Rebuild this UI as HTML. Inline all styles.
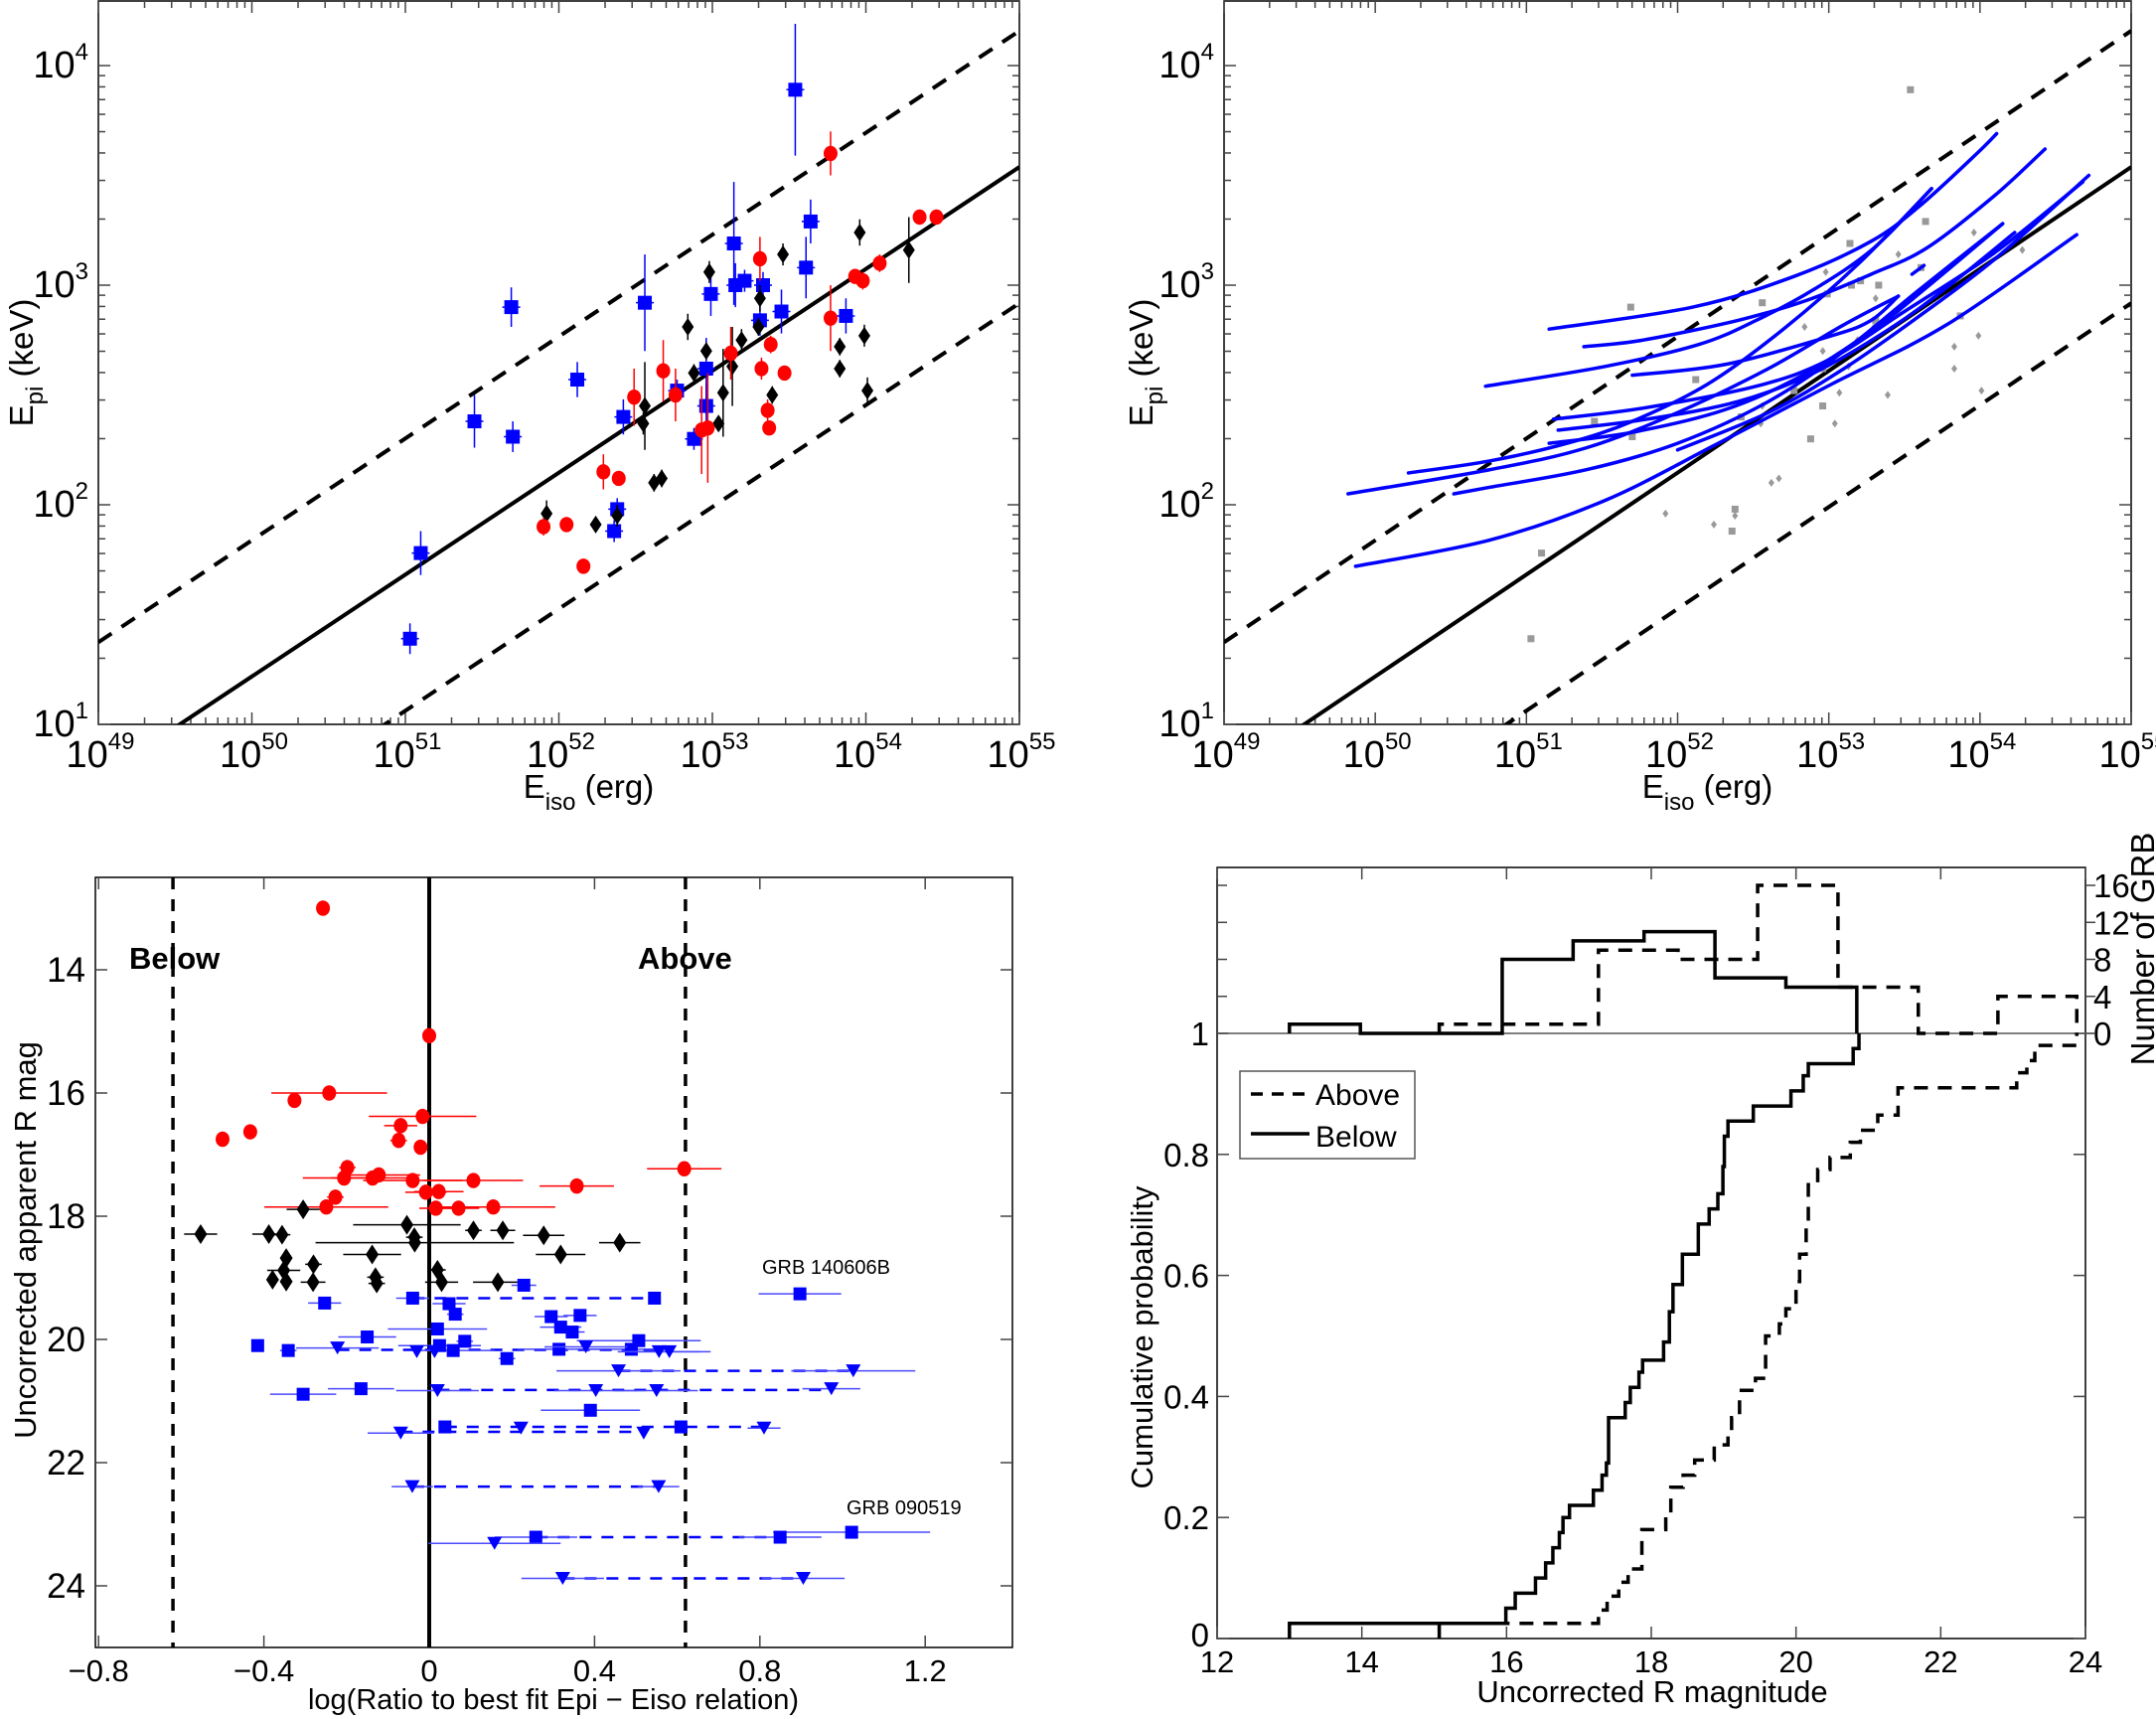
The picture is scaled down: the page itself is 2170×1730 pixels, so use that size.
<!DOCTYPE html>
<html><head><meta charset="utf-8"><title>GRB Epi-Eiso figure</title>
<style>
html,body{margin:0;padding:0;background:#fff;}
svg{display:block;font-family:"Liberation Sans Narrow","Liberation Sans",sans-serif;}
</style></head>
<body>
<svg id="fig" xmlns="http://www.w3.org/2000/svg" width="2170" height="1730" viewBox="0 0 2170 1730">
<defs>
<clipPath id="clip1"><rect x="99" y="1" width="927" height="728"/></clipPath>
<clipPath id="clip2"><rect x="1232" y="1" width="913" height="728"/></clipPath>
<clipPath id="clip3"><rect x="96" y="883" width="923" height="775"/></clipPath>
</defs>
</svg>
<script>
// ---------- Panel 1 data (log10 Eiso, log10 Epi) ----------
const p1SqE=[51.03,51.1,51.45,51.7,51.69,52.12,52.36,52.38,52.42,52.56,52.77,52.88,52.96,52.96,52.99,53.14,53.15,53.21,53.31,53.33,53.45,53.54,53.61,53.64,53.87];
const p1SqP=[1.39,1.78,2.38,2.31,2.9,2.57,1.88,1.98,2.40,2.92,2.52,2.30,2.45,2.62,2.96,3.19,3.0,3.02,2.84,3.0,2.88,3.89,3.08,3.29,2.86];
const p1SqErr=[0.07,0.1,0.12,0.07,0.09,0.08,0.05,0.05,0.08,0.22,0.05,0.05,0.1,0.14,0.1,0.28,0.1,0.05,0.07,0.06,0.1,0.3,0.14,0.1,0.08];
const p1CiE=[51.9,52.05,52.16,52.29,52.39,52.49,52.68,52.76,52.93,52.97,53.12,53.31,53.32,53.36,53.37,53.38,53.47,53.77,53.77,53.93,53.98,54.09,54.35,54.46];
const p1CiP=[1.9,1.91,1.72,2.15,2.12,2.49,2.61,2.50,2.34,2.35,2.69,3.12,2.62,2.43,2.35,2.73,2.60,3.60,2.85,3.04,3.02,3.10,3.31,3.31];
const p1CiErr=[0.04,0.03,0.03,0.08,0.03,0.13,0.14,0.12,0.2,0.25,0.12,0.1,0.05,0.05,0.03,0.04,0.03,0.1,0.15,0.03,0.04,0.04,0.03,0.03];
const p1DiE=[51.92,52.24,52.38,52.55,52.56,52.62,52.67,52.84,52.88,52.96,52.98,53.04,53.07,53.13,53.19,53.30,53.31,53.39,53.46,53.83,53.83,53.96,53.99,54.01,54.28];
const p1DiP=[1.96,1.91,1.95,2.37,2.45,2.10,2.12,2.81,2.60,2.70,3.06,2.37,2.51,2.63,2.75,2.81,2.94,2.50,3.14,2.62,2.72,3.24,2.77,2.52,3.16];
const p1DiErr=[0.06,0.03,0.05,0.05,0.2,0.04,0.04,0.06,0.04,0.04,0.05,0.03,0.2,0.18,0.05,0.04,0.06,0.04,0.05,0.04,0.04,0.06,0.05,0.06,0.15];
const p1XTicks=[49,50,51,52,53,54,55];
const p1YTicks=[1,2,3,4];
const fitIntercept=0.754, fitSlope=0.464, fitBand=0.62;

// ---------- Panel 2 tracks ----------
const p2Tracks=[
 [[51.15,2.80],[52.1,2.9],[52.77,3.04],[53.28,3.2],[53.6,3.36],[53.98,3.6],[54.11,3.69]],
 [[51.38,2.72],[51.77,2.75],[52.4,2.84],[52.85,2.93],[53.28,3.05],[53.65,3.17],[54.1,3.41],[54.43,3.62]],
 [[50.73,2.54],[51.52,2.63],[52.14,2.73],[52.52,2.84],[52.9,2.98],[53.3,3.17],[53.68,3.44]],
 [[51.7,2.59],[52.32,2.64],[53.02,2.77],[53.28,2.84],[53.46,2.95]],
 [[51.18,2.39],[51.77,2.44],[52.52,2.54],[53.0,2.66],[53.5,2.88],[54.1,3.15],[54.68,3.47]],
 [[51.21,2.34],[51.8,2.39],[52.4,2.47],[52.9,2.6],[53.4,2.8],[53.8,3.0],[54.23,3.24]],
 [[51.15,2.28],[51.7,2.33],[52.3,2.43],[52.8,2.58],[53.3,2.8],[53.7,3.02],[54.15,3.28]],
 [[50.22,2.145],[50.76,2.2],[51.27,2.28],[51.7,2.38],[52.2,2.55],[52.7,2.8],[53.2,3.1],[53.68,3.44]],
 [[49.82,2.05],[50.76,2.16],[51.4,2.26],[52.0,2.42],[52.6,2.62],[53.1,2.82],[53.46,2.95]],
 [[50.52,2.05],[50.76,2.08],[51.4,2.16],[52.0,2.28],[52.6,2.47],[53.1,2.7],[53.6,2.98],[54.15,3.28]],
 [[49.87,1.72],[50.76,1.84],[51.52,2.02],[52.27,2.28],[53.02,2.55],[53.78,2.82],[54.64,3.23]],
 [[52.0,2.25],[52.6,2.42],[53.1,2.62],[53.6,2.86],[54.1,3.12],[54.72,3.5]],
 [[53.55,3.05],[53.63,3.09]]
];

// ---------- Panel 3 data ----------
const p3RedX=[-0.257,0,-0.242,-0.326,-0.016,-0.433,-0.069,-0.50,-0.074,-0.021,-0.198,0.617,-0.122,-0.206,-0.137,-0.04,0.107,0.357,-0.008,0.023,-0.227,-0.249,0.016,0.071,0.155];
const p3RedY=[13.0,15.07,16.0,16.12,16.38,16.63,16.53,16.75,16.77,16.88,17.21,17.23,17.33,17.38,17.38,17.42,17.42,17.51,17.61,17.60,17.69,17.85,17.87,17.87,17.85];
const p3RedErr=[0,0,0.14,0,0.13,0,0.04,0,0.02,0,0.02,0.09,0.1,0.1,0.1,0.12,0.12,0.09,0.05,0.06,0.02,0.15,0.04,0.05,0.15];
const p3BlkX=[-0.305,-0.553,-0.388,-0.356,-0.054,-0.036,-0.035,0.107,0.178,0.277,0.461,-0.346,-0.138,0.318,-0.28,-0.352,0.02,-0.379,-0.346,-0.281,-0.13,-0.127,0.03,0.166];
const p3BlkY=[17.89,18.29,18.29,18.30,18.14,18.34,18.43,18.23,18.23,18.31,18.43,18.68,18.62,18.62,18.78,18.88,18.87,19.03,19.06,19.07,18.99,19.09,19.07,19.07];
const p3BlkErr=[0.04,0.04,0.04,0.02,0.13,0.02,0.24,0.02,0.03,0.05,0.05,0.0,0.07,0.06,0.02,0.04,0.02,0.0,0.0,0.03,0.02,0.02,0.04,0.06];
const p3SqX=[0.229,-0.04,0.545,0.897,-0.253,0.048,0.063,0.295,0.365,0.02,0.318,0.346,-0.15,0.086,0.507,-0.415,0.025,-0.341,0.058,0.314,0.489,0.188,-0.165,-0.305,0.39,0.038,0.609,0.258,0.849,1.022];
const p3SqY=[19.12,19.33,19.33,19.26,19.41,19.42,19.59,19.63,19.61,19.83,19.80,19.88,19.96,20.03,20.02,20.10,20.10,20.18,20.18,20.16,20.16,20.31,20.80,20.89,21.15,21.42,21.42,23.21,23.21,23.13];
const p3SqErr=[0.03,0.04,0.0,0.1,0.04,0.04,0.02,0.04,0.04,0.12,0.05,0.03,0.07,0.02,0.15,0,0.1,0.02,0.1,0.1,0.1,0.02,0.08,0.08,0.12,0.0,0.0,0.1,0.1,0.19];
const p3TriX=[-0.222,-0.03,0.013,0.379,0.556,0.581,0.458,1.026,0.02,0.403,0.55,0.973,-0.069,0.222,0.519,0.81,-0.041,0.555,0.158,0.323,0.905];
const p3TriY=[20.14,20.2,20.2,20.12,20.2,20.2,20.51,20.51,20.83,20.83,20.83,20.8,21.52,21.44,21.52,21.44,22.39,22.39,23.31,23.88,23.88];
const p3TriErr=[0.1,0,0,0.1,0.1,0.1,0.15,0.15,0.1,0.1,0.1,0.07,0.08,0,0,0.04,0.05,0.05,0.16,0.1,0.1];
const p3DashX1=[-0.04,-0.222,0.458,0.02,0.038,-0.069,-0.041,0.258,0.323];
const p3DashX2=[0.545,0.581,1.026,0.973,0.81,0.519,0.555,0.849,0.905];
const p3DashY=[19.33,20.17,20.51,20.82,21.42,21.5,22.39,23.21,23.88];
const p3XTicks=[-0.8,-0.4,0,0.4,0.8,1.2];
const p3XLabels=["\u22120.8","\u22120.4","0","0.4","0.8","1.2"];
const p3YTicks=[14,16,18,20,22,24];

// ---------- Panel 4 data ----------
const belowEdges=[13.0,13.98,14.96,15.94,16.92,17.9,18.88,19.86,20.84];
const belowCounts=[1,0,0,8,10,11,6,5];
const aboveEdges=[15.07,16.17,17.27,18.37,19.47,20.58,21.69,22.79,23.88];
const aboveCounts=[1,1,9,8,16,5,0,4];
const belowMag=[13.0,15.99,16.12,16.4,16.54,16.64,16.73,16.78,16.87,17.2,17.32,17.38,17.41,17.64,17.71,17.83,17.88,18.17,18.25,18.3,18.43,18.65,18.8,18.92,18.99,19.01,19.06,19.41,19.93,20.1,20.17,20.79,20.87];
const belowCum=[0.025,0.05,0.075,0.10,0.125,0.15,0.175,0.2,0.22,0.245,0.27,0.29,0.365,0.39,0.415,0.44,0.46,0.49,0.54,0.585,0.635,0.685,0.71,0.735,0.78,0.83,0.855,0.88,0.905,0.93,0.95,0.975,1.0];
const aboveMag=[15.07,17.27,17.39,17.55,17.68,17.87,18.2,18.27,18.44,18.6,18.87,19.06,19.11,19.22,19.44,19.58,19.77,19.86,20.0,20.05,20.14,20.17,20.3,20.47,20.75,20.89,21.13,21.41,23.05,23.19,23.3,23.88];
const aboveCum=[0.025,0.047,0.07,0.093,0.115,0.18,0.205,0.25,0.27,0.295,0.32,0.34,0.365,0.41,0.43,0.5,0.52,0.545,0.59,0.635,0.68,0.75,0.775,0.795,0.82,0.84,0.865,0.91,0.935,0.955,0.98,1.0];
const p4XTicks=[12,14,16,18,20,22,24];
const p4YTicks=[0,0.2,0.4,0.6,0.8,1];
const p4YLabels=["0","0.2","0.4","0.6","0.8","1"];
const p4CountTicks=[0,4,8,12,16];

// ---------- helpers ----------
const NS="http://www.w3.org/2000/svg";
const svg=document.getElementById('fig');
function mk(tag,parent,attrs){const e=document.createElementNS(NS,tag);for(const k in attrs)e.setAttribute(k,attrs[k]);(parent||svg).appendChild(e);return e;}
function grp(parent){return mk('g',parent,{});}

const P1={L:99,R:1026,T:1,B:729};
const P2={L:1232,R:2145,T:1,B:729};
const P3={L:96,R:1019,T:883,B:1658};
const P4={L:1225,R:2099,T:873,B:1649};
const x1=v=>P1.L+(v-49)/6*(P1.R-P1.L);
const x2=v=>P2.L+(v-49)/6*(P2.R-P2.L);
const yL=v=>729-(v-1)*221;
const x3=v=>432+v*416;
const y3=m=>883+(m-12.5)*62;
const x4=m=>P4.L+(m-12)/12*(P4.R-P4.L);
const yc=c=>1649-c*609;
const yn=n=>1040-n*9.31;

function box(P,name){
  const r=mk('rect',svg,{x:P.L,y:P.T,width:P.R-P.L,height:P.B-P.T,fill:'none',stroke:'#000','stroke-width':1.5});
  
  
}
function tick(g,a,b,c,d){mk('line',g,{x1:a,y1:b,x2:c,y2:d,stroke:'#444','stroke-width':1.5});}

function logPanel(P,xs,clipId,prefix,ylabX){
  box(P,prefix+'-plot-area');
  const g=grp();  
  for(const d of p1XTicks){
    const X=xs(d); tick(g,X,P.B,X,P.B-12); tick(g,X,P.T,X,P.T+12);
    if(d<55){for(let k=2;k<10;k++){const Xm=xs(d+Math.log10(k)); tick(g,Xm,P.B,Xm,P.B-7); tick(g,Xm,P.T,Xm,P.T+7);}}
  }
  for(let d=1;d<=4;d++){
    const Y=yL(d); tick(g,P.L,Y,P.L+12,Y); tick(g,P.R,Y,P.R-12,Y);
    for(let k=2;k<10;k++){const Ym=yL(d+Math.log10(k)); if(Ym<P.T)break; tick(g,P.L,Ym,P.L+7,Ym); tick(g,P.R,Ym,P.R-7,Ym);}
  }
  const gl=grp();  
  for(const d of p1XTicks){
    const t=mk('text',gl,{x:xs(d)+2,y:772,'font-size':38,'text-anchor':'middle'});
    
    
    t.textContent='10';
    const s=mk('tspan',t,{dy:-18,'font-size':24}); s.textContent=String(d);
  }
  for(const d of p1YTicks){
    const t=mk('text',gl,{x:P.L-10,y:yL(d)+12,'font-size':38,'text-anchor':'end'});
    
    
    t.textContent='10';
    const s=mk('tspan',t,{dy:-18,'font-size':24}); s.textContent=String(d);
  }
  const xt=mk('text',svg,{x:(P.L+P.R)/2+30,y:803,'font-size':33,'text-anchor':'middle'});
  
  
  xt.textContent='E';
  const s1=mk('tspan',xt,{dy:12,'font-size':24}); s1.textContent='iso';
  const s2=mk('tspan',xt,{dy:-12}); s2.textContent=' (erg)';
  const yt=mk('text',svg,{x:0,y:0,'font-size':33,'text-anchor':'middle',transform:`translate(${ylabX},${(P.T+P.B)/2}) rotate(-90)`});
  
  
  yt.textContent='E';
  const s3=mk('tspan',yt,{dy:10,'font-size':24}); s3.textContent='pi';
  const s4=mk('tspan',yt,{dy:-10}); s4.textContent=' (keV)';
  const gf=mk('g',svg,{'clip-path':`url(#${clipId})`});
  
  
  const offs=[0,fitBand,-fitBand];
  offs.forEach((o,i)=>{
    const a=fitIntercept+o;
    const l=mk('line',gf,{x1:xs(49),y1:yL(a),x2:xs(55),y2:yL(a+6*fitSlope),stroke:'#000','stroke-width':4,'stroke-dasharray':i?'16 12':'none'});
    
    
  });
  return gf;
}

function square(g,cx,cy,s,fill){return mk('rect',g,{x:cx-s/2,y:cy-s/2,width:s,height:s,fill:fill});}
function circle(g,cx,cy,r,fill){return mk('ellipse',g,{cx:cx,cy:cy,rx:r,ry:r*1.1,fill:fill});}
function diamond(g,cx,cy,w,h,fill){return mk('polygon',g,{points:`${cx},${cy-h/2} ${cx+w/2},${cy} ${cx},${cy+h/2} ${cx-w/2},${cy}`,fill:fill});}
function tri(g,cx,cy,w,h,fill){return mk('polygon',g,{points:`${cx-w/2},${cy-h/2} ${cx+w/2},${cy-h/2} ${cx},${cy+h/2}`,fill:fill});}
function smoothPath(pts){
  if(pts.length<3){return 'M'+pts.map(p=>p[0].toFixed(1)+','+p[1].toFixed(1)).join('L');}
  let d='M'+pts[0][0].toFixed(1)+','+pts[0][1].toFixed(1);
  for(let i=0;i<pts.length-1;i++){
    const p0=pts[Math.max(0,i-1)],p1=pts[i],p2=pts[i+1],p3=pts[Math.min(pts.length-1,i+2)];
    const c1x=p1[0]+(p2[0]-p0[0])/6,c1y=p1[1]+(p2[1]-p0[1])/6;
    const c2x=p2[0]-(p3[0]-p1[0])/6,c2y=p2[1]-(p3[1]-p1[1])/6;
    d+=`C${c1x.toFixed(1)},${c1y.toFixed(1)} ${c2x.toFixed(1)},${c2y.toFixed(1)} ${p2[0].toFixed(1)},${p2[1].toFixed(1)}`;
  }
  return d;
}

// ---------- Panel 1 ----------
const c1=logPanel(P1,x1,'clip1','panel1',33);
(function(){
  const gB=mk('g',c1,{});  
  p1SqE.forEach((e,i)=>{const X=x1(e),Y=yL(p1SqP[i]);
    mk('line',gB,{x1:X,y1:yL(p1SqP[i]-p1SqErr[i]),x2:X,y2:yL(p1SqP[i]+p1SqErr[i]),stroke:'#0000ff','stroke-width':1.5});
    mk('line',gB,{x1:X-9,y1:Y,x2:X+9,y2:Y,stroke:'#0000ff','stroke-width':1.5});
    const m=square(gB,X,Y,14,'#0000ff');
    
    
  });
  const gK=mk('g',c1,{});  
  p1DiE.forEach((e,i)=>{const X=x1(e),Y=yL(p1DiP[i]);
    mk('line',gK,{x1:X,y1:yL(p1DiP[i]-p1DiErr[i]),x2:X,y2:yL(p1DiP[i]+p1DiErr[i]),stroke:'#000','stroke-width':1.5});
    const m=diamond(gK,X,Y,12,18,'#000');
    
    
  });
  const gR=mk('g',c1,{});  
  p1CiE.forEach((e,i)=>{const X=x1(e),Y=yL(p1CiP[i]);
    mk('line',gR,{x1:X,y1:yL(p1CiP[i]-p1CiErr[i]),x2:X,y2:yL(p1CiP[i]+p1CiErr[i]),stroke:'#ff0000','stroke-width':1.5});
    const m=circle(gR,X,Y,7,'#ff0000');
    
    
  });
})();

// ---------- Panel 2 ----------
const c2=logPanel(P2,x2,'clip2','panel2',1160);
(function(){
  const gG=mk('g',c2,{});  
  p1SqE.forEach((e,i)=>{const m=square(gG,x2(e),yL(p1SqP[i]),7,'#999');
    
    });
  p1DiE.forEach((e,i)=>{const m=diamond(gG,x2(e),yL(p1DiP[i]),6,8,'#999');
    
    });
  const gT=mk('g',c2,{});  
  p2Tracks.forEach(tr=>{
    const pts=tr.map(p=>[x2(p[0]),yL(p[1])]);
    const pth=mk('path',gT,{d:smoothPath(pts),fill:'none',stroke:'#0000ff','stroke-width':3.5,'stroke-linejoin':'round','stroke-linecap':'round'});
    
    
  });
})();

// ---------- Panel 3 ----------
(function(){
  box(P3,'panel3-plot-area');
  const g=grp();  
  p3XTicks.forEach((v,i)=>{const X=x3(v); if(X>=P3.L){tick(g,X,P3.B,X,P3.B-12); tick(g,X,P3.T,X,P3.T+12);}
    const t=mk('text',svg,{x:X,y:1692,'font-size':31,'text-anchor':'middle'});
    
    
    t.textContent=p3XLabels[i];});
  p3YTicks.forEach(v=>{const Y=y3(v); tick(g,P3.L,Y,P3.L+12,Y); tick(g,P3.R,Y,P3.R-12,Y);
    const t=mk('text',svg,{x:P3.L-10,y:Y+12,'font-size':35,'text-anchor':'end'});
    
    
    t.textContent=String(v);});
  const xt=mk('text',svg,{x:557,y:1720,'font-size':29,'text-anchor':'middle'});
  
  
  xt.textContent='log(Ratio to best fit Epi \u2212 Eiso relation)';
  const yt=mk('text',svg,{x:0,y:0,'font-size':31,'text-anchor':'middle',transform:`translate(36,${1248}) rotate(-90)`});
  
  
  yt.textContent='Uncorrected apparent R mag';

  const c3=mk('g',svg,{'clip-path':'url(#clip3)'});
  
  
  [[-fitBand,'below-threshold-line','12 10'],[0,'zero-line','none'],[fitBand,'above-threshold-line','12 10']].forEach(a=>{
    const l=mk('line',c3,{x1:x3(a[0]),y1:P3.T,x2:x3(a[0]),y2:P3.B,stroke:'#000','stroke-width':a[0]===0?4:3.5,'stroke-dasharray':a[2]});
    
    
  });
  const gd=mk('g',c3,{});  
  p3DashX1.forEach((v,i)=>{const l=mk('line',gd,{x1:x3(v),y1:y3(p3DashY[i]),x2:x3(p3DashX2[i]),y2:y3(p3DashY[i]),stroke:'#0000ff','stroke-width':2.5,'stroke-dasharray':'12 10'});
    
    });
  function errs(gp,xs_,ys_,es,col){xs_.forEach((v,i)=>{if(es[i]>0)mk('line',gp,{x1:x3(v-es[i]),y1:y3(ys_[i]),x2:x3(v+es[i]),y2:y3(ys_[i]),stroke:col,'stroke-width':1.5});});}
  const gR=mk('g',c3,{});  
  errs(gR,p3RedX,p3RedY,p3RedErr,'#ff0000');
  p3RedX.forEach((v,i)=>{const m=circle(gR,x3(v),y3(p3RedY[i]),7,'#ff0000');
    
    });
  const gK=mk('g',c3,{});  
  errs(gK,p3BlkX,p3BlkY,p3BlkErr,'#000');
  p3BlkX.forEach((v,i)=>{const m=diamond(gK,x3(v),y3(p3BlkY[i]),13,20,'#000');
    
    });
  const gS=mk('g',c3,{});  
  errs(gS,p3SqX,p3SqY,p3SqErr,'#4a4aff');
  p3SqX.forEach((v,i)=>{const m=square(gS,x3(v),y3(p3SqY[i]),13,'#0000ff');
    
    });
  const gT=mk('g',c3,{});  
  errs(gT,p3TriX,p3TriY,p3TriErr,'#4a4aff');
  p3TriX.forEach((v,i)=>{const m=tri(gT,x3(v),y3(p3TriY[i]),15,13,'#0000ff');
    
    });
  const lb=mk('text',svg,{x:130,y:975,'font-size':31,'font-weight':'bold','font-family':'Liberation Sans, sans-serif'});
    lb.textContent='Below';
  const la=mk('text',svg,{x:642,y:975,'font-size':31,'font-weight':'bold','font-family':'Liberation Sans, sans-serif'});
    la.textContent='Above';
  const a1=mk('text',svg,{x:767,y:1282,'font-size':20,'font-family':'Liberation Sans, sans-serif'});
    a1.textContent='GRB 140606B';
  const a2=mk('text',svg,{x:852,y:1524,'font-size':20,'font-family':'Liberation Sans, sans-serif'});
    a2.textContent='GRB 090519';
})();

// ---------- Panel 4 ----------
(function(){
  box(P4,'panel4-plot-area');
  const g=grp();  
  p4XTicks.forEach(v=>{const X=x4(v); tick(g,X,P4.B,X,P4.B-12); tick(g,X,P4.T,X,P4.T+12);
    const t=mk('text',svg,{x:X,y:1683,'font-size':31,'text-anchor':'middle'});
    
    
    t.textContent=String(v);});
  p4YTicks.forEach((v,i)=>{const Y=yc(v); tick(g,P4.L,Y,P4.L+12,Y); tick(g,P4.R,Y,P4.R-12,Y);
    const t=mk('text',svg,{x:P4.L-8,y:Y+(i===0?8:12),'font-size':33,'text-anchor':'end'});
    
    
    t.textContent=p4YLabels[i];});
  p4CountTicks.forEach(v=>{const Y=yn(v); tick(g,P4.R,Y,P4.R+10,Y); tick(g,P4.L,Y,P4.L+10,Y);
    const t=mk('text',svg,{x:P4.R+8,y:Y+12,'font-size':33});
    
    
    t.textContent=String(v);});
  const base=mk('line',svg,{x1:P4.L,y1:yn(0),x2:P4.R+10,y2:yn(0),stroke:'#555','stroke-width':1.5});
   
  const xt=mk('text',svg,{x:1663,y:1713,'font-size':31,'text-anchor':'middle'});
   
  xt.textContent='Uncorrected R magnitude';
  const yt=mk('text',svg,{x:0,y:0,'font-size':31,'text-anchor':'middle',transform:'translate(1160,1346) rotate(-90)'});
   
  yt.textContent='Cumulative probability';
  const yr=mk('text',svg,{x:0,y:0,'font-size':33,'text-anchor':'middle',transform:'translate(2168,955) rotate(-90)'});
   
  yr.textContent='Number of GRB';

  function histPath(edges,counts){let d=`M${x4(edges[0])},${yn(0)}`;counts.forEach((c,i)=>{d+=`V${yn(c)}H${x4(edges[i+1])}`;});d+=`V${yn(0)}`;return d;}
  function cdfPath(mags,cums){let d=`M${x4(mags[0])},${yc(0)}V${yc(cums[0])}`;for(let i=1;i<mags.length;i++){d+=`H${x4(mags[i])}V${yc(cums[i])}`;}return d;}
  const h1=mk('path',svg,{d:histPath(aboveEdges,aboveCounts),fill:'none',stroke:'#000','stroke-width':3.5,'stroke-dasharray':'14 10'});
   
  const h2=mk('path',svg,{d:histPath(belowEdges,belowCounts),fill:'none',stroke:'#000','stroke-width':3.5});
   
  const cA=mk('path',svg,{d:cdfPath(aboveMag,aboveCum),fill:'none',stroke:'#000','stroke-width':3.5,'stroke-dasharray':'14 10'});
   
  const cB=mk('path',svg,{d:cdfPath(belowMag,belowCum),fill:'none',stroke:'#000','stroke-width':3.5});
   

  const lg=grp();  
  mk('rect',lg,{x:1248,y:1078,width:176,height:88,fill:'#fff',stroke:'#555','stroke-width':1.5});
  const l1=mk('line',lg,{x1:1259,y1:1101,x2:1318,y2:1101,stroke:'#000','stroke-width':3.5,'stroke-dasharray':'12 9'});
   
  const t1=mk('text',lg,{x:1324,y:1112,'font-size':30}); t1.textContent='Above';
   
  const l2=mk('line',lg,{x1:1259,y1:1141,x2:1318,y2:1141,stroke:'#000','stroke-width':3.5});
   
  const t2=mk('text',lg,{x:1324,y:1154,'font-size':30}); t2.textContent='Below';
   
})();
</script>
</body></html>
